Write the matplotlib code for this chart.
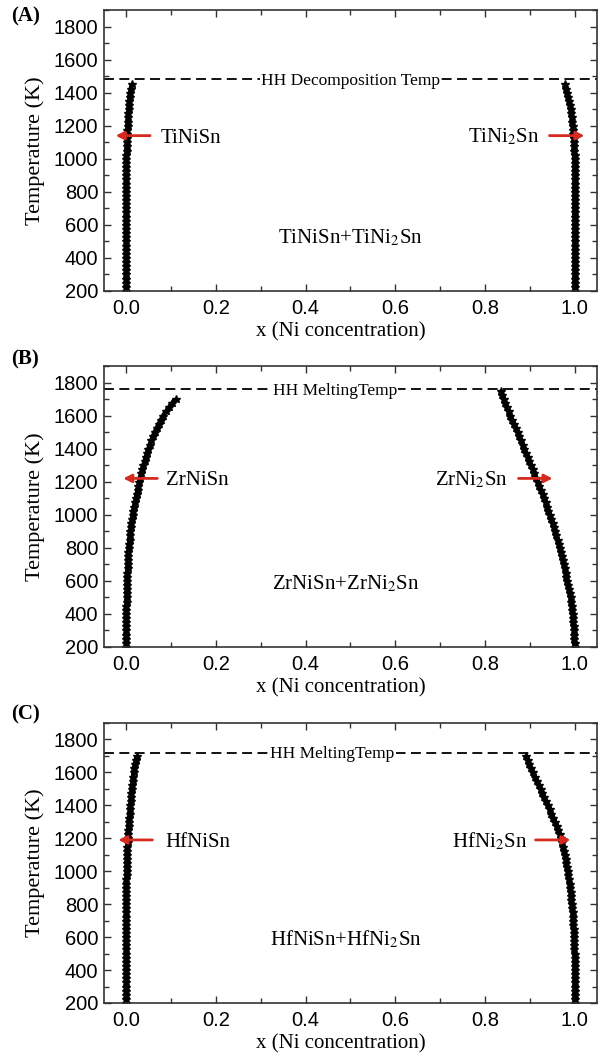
import matplotlib
matplotlib.use("Agg")
import matplotlib.pyplot as plt
from matplotlib.ticker import MultipleLocator
import numpy as np

plt.rcParams['font.family'] = 'Liberation Sans'
plt.rcParams['mathtext.fontset'] = 'stix'

# temperature grids (K)
T_ti = np.arange(200, 1451, 25)
T_zr_half = np.arange(200, 1701, 25)
T_zr_full = np.arange(200, 1751, 25)
T_hf = np.arange(200, 1701, 25)

# solubility limits, x = Ni concentration
x_tinisn = [0.0, 0.0, 0.0, 0.0, 0.0, 0.0, 0.0, 0.0, 0.0, 0.0, 0.0,
            0.0, 0.0, 0.0, 0.0, 0.0, 0.0, 0.0, 0.0, 0.0, 0.0, 0.0,
            0.0, 0.0, 0.0, 0.0, 0.0, 0.0, 0.0, 0.0, 0.0, 0.0, 0.0,
            0.0, 0.0005, 0.0008, 0.001, 0.0013, 0.0016, 0.002, 0.0025, 0.003,
            0.0035, 0.004, 0.0048, 0.0056, 0.0065, 0.0075, 0.0087, 0.010, 0.012]
x_tini2sn = [1.0, 1.0, 1.0, 1.0, 1.0, 1.0, 1.0, 1.0, 1.0, 1.0, 1.0,
             1.0, 1.0, 1.0, 1.0, 1.0, 1.0, 1.0, 1.0, 1.0, 1.0, 1.0,
             1.0, 1.0, 1.0, 1.0, 1.0, 1.0, 1.0, 1.0, 1.0, 1.0, 1.0,
             1.0, 0.9995, 0.999, 0.9985, 0.998, 0.9975, 0.997, 0.996, 0.995,
             0.994, 0.993, 0.991, 0.990, 0.988, 0.986, 0.984, 0.982, 0.979]

x_zrnisn = [0.0, 0.0, 0.0, 0.0, 0.0, 0.0, 0.0, 0.0, 0.0, 0.0, 0.0,
            0.0003, 0.0005, 0.0006, 0.0008, 0.0009, 0.001, 0.0015, 0.002, 0.0025,
            0.003, 0.0035, 0.004, 0.0045, 0.005, 0.006, 0.007, 0.008, 0.009,
            0.010, 0.011, 0.0125, 0.014, 0.0157, 0.0175, 0.0192, 0.021, 0.023,
            0.025, 0.027, 0.029, 0.031, 0.0335, 0.0357, 0.038, 0.0407, 0.0435,
            0.046, 0.049, 0.0523, 0.0557, 0.0592, 0.063, 0.0675, 0.072, 0.077,
            0.082, 0.0885, 0.095, 0.102, 0.110]
x_zrni2sn = [1.0, 1.0, 0.9998, 0.9995, 0.999, 0.998, 0.9975, 0.997, 0.996,
             0.995, 0.9935, 0.992, 0.991, 0.989, 0.9875, 0.986, 0.984, 0.982,
             0.980, 0.978, 0.976, 0.9738, 0.9715, 0.9693, 0.967, 0.9645, 0.962,
             0.9595, 0.957, 0.954, 0.951, 0.948, 0.945, 0.9418, 0.9385, 0.9353,
             0.932, 0.9285, 0.925, 0.9215, 0.918, 0.9143, 0.9105, 0.9068, 0.903,
             0.8993, 0.8955, 0.8918, 0.888, 0.8843, 0.8805, 0.8768, 0.873, 0.869,
             0.865, 0.861, 0.857, 0.853, 0.849, 0.8455, 0.842, 0.8385, 0.835]

x_hfnisn = [0.0, 0.0, 0.0, 0.0, 0.0, 0.0, 0.0, 0.0, 0.0, 0.0,
            0.0, 0.0, 0.0, 0.0, 0.0, 0.0, 0.0, 0.0, 0.0, 0.0,
            0.0, 0.0, 0.0, 0.0, 0.0, 0.0, 0.0, 0.0, 0.0,
            0.0, 0.0002, 0.0003, 0.0005, 0.0007, 0.001, 0.0012, 0.0015, 0.0019,
            0.0022, 0.0026, 0.003, 0.0036, 0.0042, 0.0048, 0.0055, 0.0063, 0.0072,
            0.0081, 0.009, 0.0097, 0.0105, 0.0112, 0.012, 0.013, 0.014, 0.015,
            0.016, 0.0175, 0.019, 0.021, 0.023]
x_hfni2sn = [1.0, 1.0, 1.0, 1.0, 1.0, 1.0, 1.0, 1.0, 1.0, 1.0, 1.0, 1.0, 1.0,
             0.9998, 0.9995, 0.9993, 0.999, 0.9985, 0.998, 0.9975, 0.997, 0.9963,
             0.9955, 0.9948, 0.994, 0.993, 0.992, 0.991, 0.990, 0.9888, 0.9875,
             0.9863, 0.985, 0.9835, 0.982, 0.9805, 0.979, 0.9768, 0.9745, 0.9723,
             0.970, 0.9668, 0.9635, 0.9603, 0.957, 0.9528, 0.9485, 0.9443, 0.940,
             0.936, 0.932, 0.928, 0.924, 0.9198, 0.9155, 0.9113, 0.907, 0.903,
             0.899, 0.895, 0.891]

# HH decomposition / melting temperatures (K)
t_limit = [1480, 1760, 1720]
limit_text = ['HH Decomposition Temp', 'HH MeltingTemp', 'HH MeltingTemp']
left_names = ['TiNiSn', 'ZrNiSn', 'HfNiSn']
right_names = ['TiNi$_2$Sn', 'ZrNi$_2$Sn', 'HfNi$_2$Sn']
mid_names = ['TiNiSn+TiNi$_2$Sn', 'ZrNiSn+ZrNi$_2$Sn', 'HfNiSn+HfNi$_2$Sn']
tags = ['(A)', '(B)', '(C)']

curves = [(T_ti, x_tinisn, T_ti, x_tini2sn),
          (T_zr_half, x_zrnisn, T_zr_full, x_zrni2sn),
          (T_hf, x_hfnisn, T_hf, x_hfni2sn)]

# layout bits for each panel
rects = [[0.173, 0.7247, 0.8203, 0.2658],
         [0.173, 0.3879, 0.8203, 0.2658],
         [0.173, 0.0511, 0.8203, 0.2649]]
tag_y = [0.984, 0.660, 0.324]
label_x = [0.50, 0.465, 0.46]
arrow_y = [1140, 1220, 1190]
left_arrow = [(0.053, -0.024, 0.076), (0.069, -0.007, 0.089), (0.058, -0.018, 0.087)]
right_arrow = [(0.944, 1.022, 0.922), (0.875, 0.951, 0.851), (0.913, 0.991, 0.895)]
mid_pos = [(0.50, 490), (0.49, 548), (0.49, 550)]

red = '#d42a20'
serif = 'Liberation Serif'

fig = plt.figure(figsize=(6.01, 10.57), dpi=100)

for i in range(3):
    ax = fig.add_axes(rects[i])
    Tl, xl, Tr, xr = curves[i]
    # dense star markers over a thick line give the solid band
    for xs, Ts in ((xl, Tl), (xr, Tr)):
        ax.plot(xs, Ts, color='black', lw=3.2, solid_capstyle='butt')
        ax.plot(xs, Ts, ls='none', marker='*', ms=6.2, color='black')

    ax.axhline(t_limit[i], color='black', lw=1.3, dashes=(5.5, 3))
    ax.text(label_x[i], t_limit[i] - 35, limit_text[i], ha='center', va='baseline',
            fontsize=12.5, family=serif,
            bbox=dict(facecolor='white', edgecolor='none', pad=1.0))

    tail, head, tx = left_arrow[i]
    ax.annotate('', xy=(head, arrow_y[i]), xytext=(tail, arrow_y[i]),
                arrowprops=dict(arrowstyle='-|>', color=red, lw=2, mutation_scale=12,
                                shrinkA=0, shrinkB=0))
    ax.text(tx, arrow_y[i] - 42, left_names[i], ha='left', va='baseline',
            fontsize=15, family=serif)

    tail, head, tx = right_arrow[i]
    ax.annotate('', xy=(head, arrow_y[i]), xytext=(tail, arrow_y[i]),
                arrowprops=dict(arrowstyle='-|>', color=red, lw=2, mutation_scale=12,
                                shrinkA=0, shrinkB=0))
    ax.text(tx, arrow_y[i] - 42, right_names[i], ha='right', va='baseline',
            fontsize=15, family=serif)

    ax.text(mid_pos[i][0], mid_pos[i][1], mid_names[i], ha='center', va='baseline',
            fontsize=15, family=serif)

    ax.set_xlim(-0.05, 1.05)
    ax.set_ylim(200, 1900)
    ax.xaxis.set_major_locator(MultipleLocator(0.2))
    ax.xaxis.set_minor_locator(MultipleLocator(0.1))
    ax.yaxis.set_major_locator(MultipleLocator(200))
    ax.yaxis.set_minor_locator(MultipleLocator(100))
    ax.set_yticks([200, 400, 600, 800, 1000, 1200, 1400, 1600, 1800])
    ax.xaxis.set_major_formatter(plt.FormatStrFormatter('%.1f'))
    ax.tick_params(which='both', direction='in', top=True, right=True,
                   labelsize=14.5, color='#333333')
    ax.tick_params(which='major', length=5, width=1)
    ax.tick_params(which='minor', length=3.5, width=1)
    ax.tick_params(axis='x', pad=6)
    ax.tick_params(axis='y', pad=4)
    for s in ax.spines.values():
        s.set_color('#333333')
        s.set_linewidth(1.2)

    ax.set_ylabel('Temperature (K)', fontsize=16, family=serif)
    ax.yaxis.set_label_coords(-0.12, 0.5)
    ax.set_xlabel('x (Ni concentration)', fontsize=15, family=serif)
    ax.xaxis.set_label_coords(0.48, -0.11)

    fig.text(0.018, tag_y[i], tags[i], fontsize=15, fontweight='bold',
             family=serif, ha='left', va='center')

fig.savefig('out.png', dpi=100)
